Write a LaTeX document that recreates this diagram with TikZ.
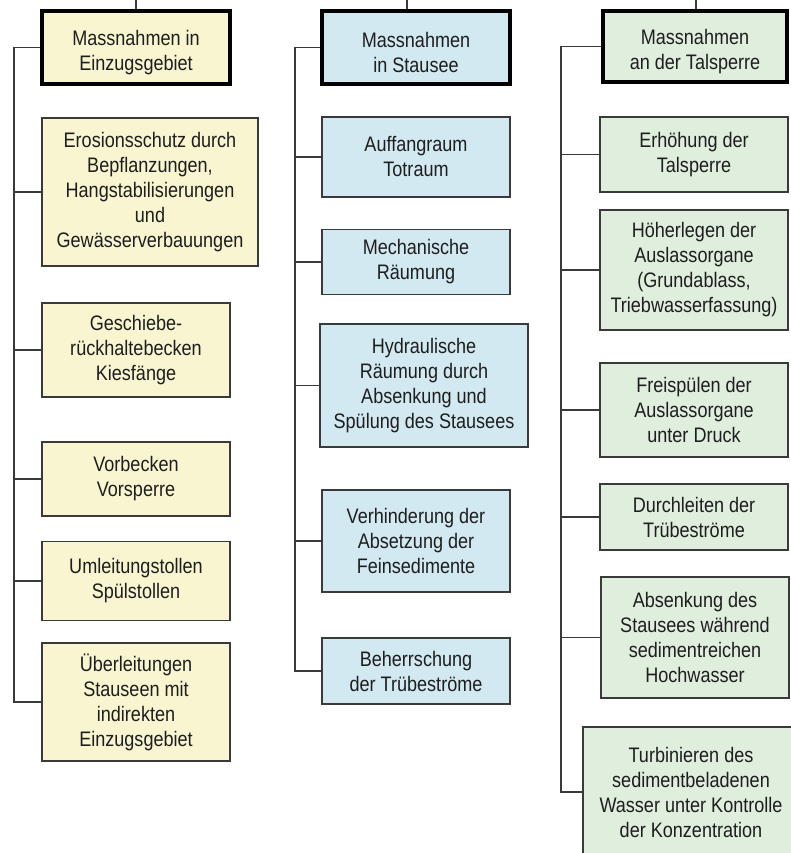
\documentclass[tikz,border=0pt]{standalone}
\usepackage{fontspec}
\setmainfont{Liberation Sans}[FakeStretch=0.86]
\definecolor{yel}{HTML}{F8F5D0}
\definecolor{blu}{HTML}{D2E9F1}
\definecolor{grn}{HTML}{DFEEDD}
\definecolor{edge}{HTML}{3A3A3A}
\definecolor{txt}{HTML}{1E1E1E}
\tikzset{
  bx/.style={draw=edge, line width=1.5pt, rectangle, inner sep=0pt, align=center,
    text=txt, font=\fontsize{21}{25}\selectfont},
  hd/.style={bx, draw=black, line width=4pt},
  conn/.style={draw=edge, line width=1.5pt},
}
\newcommand{\hdpad}{\rule{0pt}{25pt}}
\begin{document}
\begin{tikzpicture}[x=1pt,y=-1pt]
\useasboundingbox (0,0) rectangle (790,853);
% column 1
\node[hd, fill=yel, minimum width=188pt, minimum height=73pt] (h1) at (136,47.5) {\hdpad Massnahmen in\\Einzugsgebiet};
\node[bx, fill=yel, minimum width=216pt, minimum height=148pt] (a1) at (150,192) {Erosionsschutz durch\\Bepflanzungen,\\Hangstabilisierungen\\und\\Gewässerverbauungen};
\node[bx, fill=yel, minimum width=188pt, minimum height=94pt] (a2) at (136,350) {Geschiebe-\\rückhaltebecken\\Kiesfänge};
\node[bx, fill=yel, minimum width=188pt, minimum height=74pt] (a3) at (136,479) {Vorbecken\\Vorsperre};
\node[bx, fill=yel, minimum width=188pt, minimum height=79pt] (a4) at (136,581) {Umleitungstollen\\Spülstollen};
\node[bx, fill=yel, minimum width=188pt, minimum height=118pt] (a5) at (136,702) {Überleitungen\\Stauseen mit\\indirekten\\Einzugsgebiet};
% column 2
\node[hd, fill=blu, minimum width=188pt, minimum height=73pt] (h2) at (416,47.5) {\hdpad Massnahmen\\in Stausee};
\node[bx, fill=blu, minimum width=188pt, minimum height=80pt] (b1) at (416,157) {Auffangraum\\Totraum};
\node[bx, fill=blu, minimum width=188pt, minimum height=65pt] (b2) at (416,262) {Mechanische\\Räumung};
\node[bx, fill=blu, minimum width=208pt, minimum height=123pt] (b3) at (424,385.5) {Hydraulische\\Räumung durch\\Absenkung und\\Spülung des Stausees};
\node[bx, fill=blu, minimum width=188pt, minimum height=102pt] (b4) at (416,541) {Verhinderung der\\Absetzung der\\Feinsedimente};
\node[bx, fill=blu, minimum width=188pt, minimum height=66pt] (b5) at (416,671) {Beherrschung\\der Trübeströme};
% column 3
\node[hd, fill=grn, minimum width=184pt, minimum height=71pt] (h3) at (695,46.5) {\hdpad Massnahmen\\an der Talsperre};
\node[bx, fill=grn, minimum width=188pt, minimum height=75pt] (c1) at (694,154.5) {Erhöhung der\\Talsperre};
\node[bx, fill=grn, minimum width=188pt, minimum height=120pt] (c2) at (694,270) {Höherlegen der\\Auslassorgane\\(Grundablass,\\Triebwasserfassung)};
\node[bx, fill=grn, minimum width=188pt, minimum height=94pt] (c3) at (694,410) {Freispülen der\\Auslassorgane\\unter Druck};
\node[bx, fill=grn, minimum width=188pt, minimum height=66pt] (c4) at (694,517) {Durchleiten der\\Trübeströme};
\node[bx, fill=grn, minimum width=188pt, minimum height=121pt] (c5) at (695,637.5) {Absenkung des\\Stausees während\\sedimentreichen\\Hochwasser};
\node[bx, fill=grn, minimum width=216pt, minimum height=130pt] (c6) at (691,792) {Turbinieren des\\sedimentbeladenen\\Wasser unter Kontrolle\\der Konzentration};
% trunks
\coordinate (t1) at (14,0);
\coordinate (t2) at (295,0);
\coordinate (t3) at (561,0);
\coordinate (s1) at (136,0);
\coordinate (s2) at (407,0);
\coordinate (s3) at (696,0);
\draw[conn] (h1.west) -- (h1.west -| t1) -- (a5.west -| t1) -- (a5.west);
\foreach \n in {a1,a2,a3,a4} \draw[conn] (\n.west) -- (\n.west -| t1);
\draw[conn] (h2.west) -- (h2.west -| t2) -- (b5.west -| t2) -- (b5.west);
\foreach \n in {b1,b2,b3,b4} \draw[conn] (\n.west) -- (\n.west -| t2);
\draw[conn] (h3.west) -- (h3.west -| t3) -- (c6.west -| t3) -- (c6.west);
\foreach \n in {c1,c2,c3,c4,c5} \draw[conn] (\n.west) -- (\n.west -| t3);
% stubs at top
\draw[conn] (s1) -- (s1 |- h1.north);
\draw[conn] (s2) -- (s2 |- h2.north);
\draw[conn] (s3) -- (s3 |- h3.north);
\end{tikzpicture}
\end{document}
